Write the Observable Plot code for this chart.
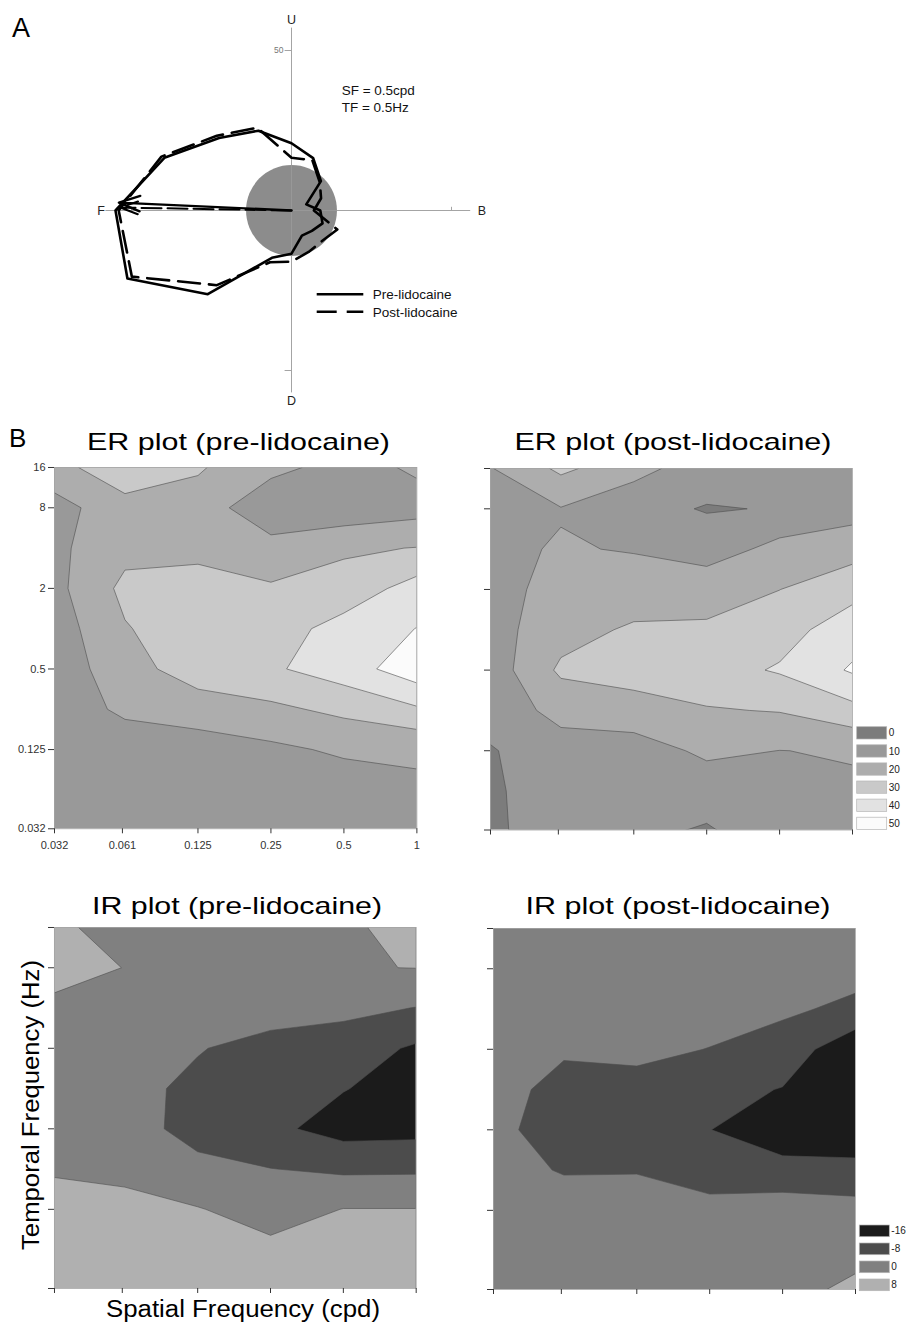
<!DOCTYPE html>
<html><head><meta charset="utf-8">
<script src="https://cdn.jsdelivr.net/npm/d3@7"></script>
<script src="https://cdn.jsdelivr.net/npm/@observablehq/plot@0.6"></script>
<style>
html,body{margin:0;padding:0;background:#fff;}
#fig{position:relative;width:908px;height:1323px;overflow:hidden;background:#fff;font-family:'Liberation Sans',Arial,Helvetica,sans-serif;}
</style></head><body><div id="fig"></div>
<script>
// ---------------- DATA ----------------
// Panel A: direction tuning (deg, counter-clockwise from B), responses (spikes/s)
const directions = [0, 22.5, 45, 67.5, 90, 112.5, 135, 157.5, 180, 202.5, 225, 247.5, 270, 292.5, 315, 337.5];
const preResponse  = [9, 5, 13, 17.7, 21, 27, 32, 43, 55, 55.5, 37, 16, 13.5, 8.5, 9, 10.5];
const postResponse = [7, 10, 12.5, 17, 16.5, 28, 33, 44, 54, 54, 33, 17.5, 16, 14, 13.5, 15.5];
const spontaneous = 14.2;
const vectorAngles = [177.4, 179];     // pre, post
const vectorMagnitudes = [54, 53.5];   // pre, post
const polarTicks = [50];
const axisLabels = ["B", "U", "F", "D"];
const axisLabelAngles = [0, 90, 180, 270];

// Panel B: contour grids
const sfTicks = [0.032, 0.061, 0.125, 0.25, 0.5, 1];
const sfTickLabels = ["0.032", "0.061", "0.125", "0.25", "0.5", "1"];
const tfTicks = [0.032, 0.125, 0.5, 2, 8, 16];
const tfTickLabels = ["0.032", "0.125", "0.5", "2", "8", "16"];
const gridSF = [0.032, 0.061, 0.125, 0.25, 0.5, 1];                    // columns
const gridTF = [16, 8, 4, 2, 1, 0.5, 0.25, 0.125, 0.061, 0.032];       // rows, top to bottom

const erThresholds = [0, 10, 20, 30, 40, 50];
const erColors = ["#7c7c7c", "#999999", "#adadad", "#c9c9c9", "#e2e2e2", "#fbfbfb"];
const irThresholds = [-16, -8, 0, 8];
const irColors = ["#1b1b1b", "#4c4c4c", "#808080", "#b0b0b0"];

const erPre = [
  [26, 37, 31, 23, 16, 21.5],
  [15.9, 26.2, 26, 12, 13, 16],
  [17.5, 27, 27, 23.9, 28.6, 30.3],
  [16.5, 32.5, 34.5, 31.1, 33.7, 44.2],
  [14.3, 29.3, 36, 35, 44, 50.2],
  [13.5, 26, 35, 38.6, 45.1, 56],
  [10.5, 23, 25, 27.9, 32.4, 38.7],
  [10.5, 11, 15, 18, 21.5, 21.3],
  [10.5, 11, 13, 15, 14.8, 18.6],
  [10.5, 11, 12, 13, 13, 15]
];
const erPost = [
  [19, 32, 23.7, 14, 14, 14],
  [14, 19.5, 12.4, 9.5, 10.4, 16],
  [18.3, 20.6, 19.5, 14, 23.7, 26],
  [16.6, 23, 24, 28, 29.9, 36.7],
  [15.8, 26, 31.5, 30.7, 36, 45.5],
  [13.8, 31.8, 34, 36, 41, 51.2],
  [14, 23, 26, 29.3, 30.5, 36.8],
  [9, 15.9, 15.1, 22, 19.9, 20.6],
  [8.5, 14.5, 13, 14, 16, 18.9],
  [8, 15, 12, 9, 15, 15]
];
const irPre = [
  [12, 1, 3, 4, 7, 10],
  [10, 7.9, 2, 3, 7.7, 8.1],
  [6.9, 3, 1.5, 1.5, 2, -0.2],
  [5, 2, 0.2, -1.2, -4, -9.1],
  [4, 1, -0.75, -5, -7.7, -11],
  [4, 1, -0.85, -6.3, -11, -10.5],
  [7, 5, 0.64, 0.15, -1.4, -1.2],
  [12, 11.7, 8.5, 4, 8.2, 8.2],
  [12, 12, 11, 10.2, 11, 11],
  [12, 12, 11, 11, 11, 11]
];
const irPost = [
  [4, 4, 3.5, 3, 3, 3],
  [4, 4, 3.5, 3, 2.5, 2],
  [4, 3.5, 3, 2.5, 1, -1.3],
  [4, 1, 1.5, -0.15, -2.6, -14.7],
  [3.2, -2.6, -2.1, -5, -8.4, -15],
  [1.84, -3, -4, -7.95, -10, -14],
  [2.6, -0.5, -0.4, -4, -6.9, -5.4],
  [4, 3.5, 3.6, 2.7, 5.6, 2.9],
  [4, 4, 4, 4, 5, 6],
  [4, 4, 4, 4, 6, 9.5]
];

// ---------------- LAYOUT ----------------
const FONT = "'Liberation Sans', Arial, Helvetica, sans-serif";
const fig = document.getElementById("fig");
function place(el, left, top) {
  el.style.position = "absolute";
  el.style.left = left + "px";
  el.style.top = top + "px";
  fig.appendChild(el);
}
const rad = (a) => a * Math.PI / 180;

// ---------------- PANEL A ----------------
{
  const W = 500, H = 410, cx = 291, cy = 210, pxPerUnit = 160 / 50;
  const axisExtent = 57, labelRadius = 59.5;
  const toXY = (radii) => directions.map((a, i) => ({x: radii[i] * Math.cos(rad(a)), y: radii[i] * Math.sin(rad(a))}));
  const pre = toXY(preResponse), post = toXY(postResponse);
  const vecs = vectorAngles.map((a, i) => ({x: vectorMagnitudes[i] * Math.cos(rad(a)), y: vectorMagnitudes[i] * Math.sin(rad(a))}));
  const labels = axisLabels.map((l, i) => ({l, x: labelRadius * Math.cos(rad(axisLabelAngles[i])), y: labelRadius * Math.sin(rad(axisLabelAngles[i]))}));
  const p = Plot.plot({
    width: W, height: H, margin: 0,
    x: {domain: [-cx / pxPerUnit, (W - cx) / pxPerUnit], axis: null},
    y: {domain: [-(H - cy) / pxPerUnit, cy / pxPerUnit], axis: null},
    r: {type: "linear", domain: [0, 50], range: [0, 160]},
    style: {fontFamily: FONT, background: "transparent", overflow: "visible"},
    marks: [
      Plot.dot([spontaneous], {x: 0, y: 0, r: d => d, fill: "#8c8c8c", stroke: "none"}),
      Plot.ruleX([0], {y1: -axisExtent, y2: axisExtent, stroke: "#9a9a9a", strokeWidth: 0.9}),
      Plot.ruleY([0], {x1: -axisExtent - 1, x2: axisExtent - 1, stroke: "#9a9a9a", strokeWidth: 0.9}),
      Plot.ruleY(polarTicks.flatMap(t => [t, -t]), {x1: -2, x2: 0, stroke: "#9a9a9a", strokeWidth: 0.9}),
      Plot.ruleX(polarTicks.flatMap(t => [t, -t]), {y1: 0, y2: 1, stroke: "#9a9a9a", strokeWidth: 0.9}),
      Plot.text(polarTicks, {x: 0, y: d => d, text: d => String(d), dx: -8, textAnchor: "end", fontSize: 8.5, fill: "#777"}),
      Plot.text(labels, {x: "x", y: "y", text: "l", fontSize: 12.5, fill: "#222"}),
      Plot.line(post, {x: "x", y: "y", curve: "linear-closed", stroke: "#000", strokeWidth: 2.6, strokeDasharray: "22,9"}),
      Plot.line(pre, {x: "x", y: "y", curve: "linear-closed", stroke: "#000", strokeWidth: 2.6}),
      Plot.arrow([vecs[0]], {x1: 0, y1: 0, x2: "x", y2: "y", stroke: "#000", strokeWidth: 2.4, headLength: 14, headAngle: 40}),
      Plot.arrow([vecs[1]], {x1: 0, y1: 0, x2: "x", y2: "y", stroke: "#000", strokeWidth: 2, headLength: 14, headAngle: 40, strokeDasharray: "20,6"})
    ]
  });
  place(p, 0, 0);
}

// ---------------- PANEL B ----------------
function contourPanel(grid, thresholds, colors, frame, opts) {
  const ml = 60, mt = 4, mr = 6, mb = 30;
  const w = frame.r - frame.l, h = frame.b - frame.t;
  const sfMap = new Map(sfTicks.map((t, i) => [Math.log2(t), sfTickLabels[i]]));
  const tfMap = new Map(tfTicks.map((t, i) => [Math.log2(t), tfTickLabels[i]]));
  const x1 = Math.round(Math.log2(gridSF[0])) - 0.5, x2 = Math.round(Math.log2(gridSF[gridSF.length - 1])) + 0.5;
  const y1 = Math.round(Math.log2(gridTF[0])) + 0.5, y2 = Math.round(Math.log2(gridTF[gridTF.length - 1])) - 0.5;
  const p = Plot.plot({
    width: w + ml + mr, height: h + mt + mb,
    marginLeft: ml, marginRight: mr, marginTop: mt, marginBottom: mb,
    x: {domain: [Math.log2(sfTicks[0]), Math.log2(sfTicks[sfTicks.length - 1])]},
    y: {domain: [Math.log2(tfTicks[0]), Math.log2(tfTicks[tfTicks.length - 1])]},
    color: {type: "ordinal", domain: thresholds, range: colors},
    style: {fontFamily: FONT, fontSize: "11px", background: "transparent", overflow: "visible"},
    marks: [
      Plot.contour(grid.flat(), {
        width: gridSF.length, height: gridTF.length, x1, x2, y1, y2,
        fill: Plot.identity, thresholds, stroke: "#4d4d4d", strokeWidth: 0.6, clip: true
      }),
      Plot.frame({stroke: "#a3a3a3", strokeWidth: 0.8}),
      Plot.axisX({ticks: sfTicks.map(Math.log2), tickFormat: d => opts.xLabels ? sfMap.get(d) : "", tickSize: 5, tickPadding: 7, color: "#333", label: null, fontSize: 11}),
      Plot.axisY({ticks: tfTicks.map(Math.log2), tickFormat: d => opts.yLabels ? tfMap.get(d) : "", tickSize: 6, tickPadding: 3, color: "#333", label: null, fontSize: 11})
    ]
  });
  place(p, frame.l - ml, frame.t - mt);
}

contourPanel(erPre, erThresholds, erColors, {l: 54.3, t: 466.7, r: 416.7, b: 828}, {xLabels: true, yLabels: true});
contourPanel(erPost, erThresholds, erColors, {l: 490, t: 467.5, r: 852, b: 829}, {xLabels: false, yLabels: false});
contourPanel(irPre, irThresholds, irColors, {l: 54.3, t: 927.3, r: 416, b: 1288.3}, {xLabels: false, yLabels: false});
contourPanel(irPost, irThresholds, irColors, {l: 493.3, t: 928.3, r: 855.3, b: 1289.3}, {xLabels: false, yLabels: false});

// ---------------- TEXT OVERLAY & LEGENDS ----------------
const svg = d3.create("svg").attr("width", 908).attr("height", 1323)
  .style("position", "absolute").style("left", "0px").style("top", "0px")
  .style("pointer-events", "none").attr("font-family", FONT);
function addText(str, o) {
  const t = svg.append("text").attr("x", o.x).attr("y", o.y).attr("font-size", o.size)
    .attr("text-anchor", o.anchor || "start").attr("fill", o.fill || "#000").text(str);
  if (o.length) t.attr("textLength", o.length).attr("lengthAdjust", "spacingAndGlyphs");
  if (o.rotate) t.attr("transform", `rotate(${o.rotate} ${o.x} ${o.y})`);
}
addText("A", {x: 12, y: 37, size: 27});
addText("B", {x: 9, y: 447, size: 26});
addText("SF = 0.5cpd", {x: 341.7, y: 95, size: 13.5, fill: "#111"});
addText("TF = 0.5Hz", {x: 341.7, y: 111.7, size: 13.5, fill: "#111"});
// polar legend
svg.append("line").attr("x1", 316.7).attr("x2", 363.3).attr("y1", 294.3).attr("y2", 294.3).attr("stroke", "#000").attr("stroke-width", 2.6);
svg.append("line").attr("x1", 316.7).attr("x2", 363.3).attr("y1", 311.7).attr("y2", 311.7).attr("stroke", "#000").attr("stroke-width", 2.6).attr("stroke-dasharray", "20,10");
addText("Pre-lidocaine", {x: 372.7, y: 299, size: 13.5, fill: "#111"});
addText("Post-lidocaine", {x: 372.7, y: 316.5, size: 13.5, fill: "#111"});

addText("ER plot (pre-lidocaine)", {x: 238.5, y: 450, size: 24, anchor: "middle", length: 303});
addText("ER plot (post-lidocaine)", {x: 673, y: 450, size: 24, anchor: "middle", length: 317});
addText("IR plot (pre-lidocaine)", {x: 237, y: 914, size: 24, anchor: "middle", length: 290});
addText("IR plot (post-lidocaine)", {x: 678, y: 914, size: 24, anchor: "middle", length: 305});
addText("Spatial Frequency (cpd)", {x: 243, y: 1316.5, size: 23, anchor: "middle", length: 274});
addText("Temporal Frequency (Hz)", {x: 39, y: 1105, size: 23, anchor: "middle", length: 290, rotate: -90});

// contour legends
function legend(thresholds, colors, x, y0, step, bw, bh) {
  thresholds.forEach((t, i) => {
    const y = y0 + i * step;
    svg.append("rect").attr("x", x).attr("y", y).attr("width", bw).attr("height", bh)
      .attr("fill", colors[i]).attr("stroke", "#b5b5b5").attr("stroke-width", 0.7);
    addText(String(t), {x: x + bw + 2, y: y + bh / 2 + 3.6, size: 10, fill: "#222"});
  });
}
legend(erThresholds, erColors, 856.7, 726.7, 18.1, 30, 12.3);
legend(irThresholds, irColors, 859.3, 1225, 18, 30, 11.7);

fig.appendChild(svg.node());
</script>
</body></html>
